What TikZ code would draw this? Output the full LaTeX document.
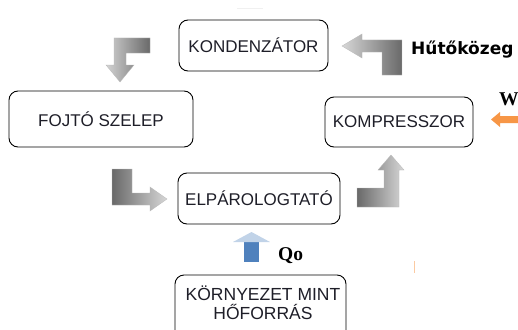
\documentclass[tikz,border=0pt]{standalone}
\usepackage{fontspec}
\setmainfont{Liberation Sans}
\newfontfamily\serifbold{Liberation Serif Bold}
\newfontfamily\dejabold{DejaVu Sans Bold}
\definecolor{txt}{RGB}{30,30,40}
\definecolor{aLight}{RGB}{215,215,215}
\definecolor{aMid}{RGB}{168,168,168}
\definecolor{aDark}{RGB}{105,105,105}
\definecolor{qblue}{RGB}{79,129,189}
\definecolor{worange}{RGB}{247,150,70}
\begin{document}
\begin{tikzpicture}[x=1pt,y=-1pt,
  box/.style={draw=black, line width=0.9pt, rounded corners=9pt, inner sep=0pt,
              text=txt, font=\fontsize{17}{20}\selectfont},
  garrow/.style={draw=gray!55, line width=0.3pt}
]
\useasboundingbox (0,0) rectangle (518,329);
\fill[white] (0,0) rectangle (518,329);
\clip (0,0) rectangle (518,329);

% boxes
\node[box, minimum width=149pt, minimum height=51pt] (kond) at (253.5,45.5) {KONDENZÁTOR};
\node[box, minimum width=184pt, minimum height=56pt] (fojto) at (101,119) {FOJTÓ SZELEP};
\node[box, minimum width=148pt, minimum height=50pt] (komp) at (399,122) {KOMPRESSZOR};
\node[box, minimum width=162pt, minimum height=51pt] (elp) at (259,198.5) {ELPÁROLOGTATÓ};
\node[box, minimum width=171pt, minimum height=90pt] (envbox) at (260.5,320) {};
\node[text=txt, align=center, inner sep=0pt, font=\fontsize{17.5}{19}\selectfont]
  (env) at (263,303) {KÖRNYEZET MINT\\HŐFORRÁS};

% gray bent arrows
\path[garrow, left color=aLight!90!aMid, right color=aDark]
  (150,38) -- (114,38) -- (114,65) -- (106,65) -- (120,82) -- (134,65)
  -- (126,65) -- (126,53) -- (150,53) -- cycle;
\path[garrow, left color=aLight, right color=aDark]
  (402,40) -- (362,40) -- (362,34) -- (342,46) -- (362,58) -- (362,52)
  -- (382,52) -- (382,75) -- (402,75) -- cycle;
\path[garrow, left color=aDark, right color=aLight]
  (112,169) -- (132,169) -- (132,193) -- (150,193) -- (150,187) -- (167,199)
  -- (150,211) -- (150,205) -- (112,205) -- cycle;
\path[garrow, left color=aDark, right color=aLight]
  (357,188) -- (384,188) -- (384,170) -- (378,170) -- (391,155) -- (404,170)
  -- (399,170) -- (399,207) -- (357,207) -- cycle;

% labels
\node[anchor=base west, inner sep=0pt, font=\dejabold\fontsize{17}{20}\selectfont, text=black]
  (hk) at (411,55) {Hűtőközeg};
\node[anchor=base west, inner sep=0pt, font=\serifbold\fontsize{19.5}{22}\selectfont, text=black]
  (w) at (499,105) {W};
\node[anchor=base west, inner sep=0pt, font=\serifbold\fontsize{19.5}{22}\selectfont, text=black]
  (qo) at (278,260) {Qo};

% blue arrow (Qo)
\fill[qblue] (244,241) rectangle (259,262);
\path[left color=qblue!35!white, middle color=qblue, right color=qblue!35!white]
  (233,242) -- (251.5,232) -- (270,242) -- cycle;

% orange arrow (W)
\fill[worange] (491,119.5) -- (500,112) -- (500,116) -- (520,116) -- (520,123) -- (500,123) -- (500,127) -- cycle;

% faint marks
\draw[gray!12, line width=1pt] (237,9) -- (263,9);
\draw[worange!50!white, line width=1pt] (414,261) -- (414,273);
\end{tikzpicture}
\end{document}
